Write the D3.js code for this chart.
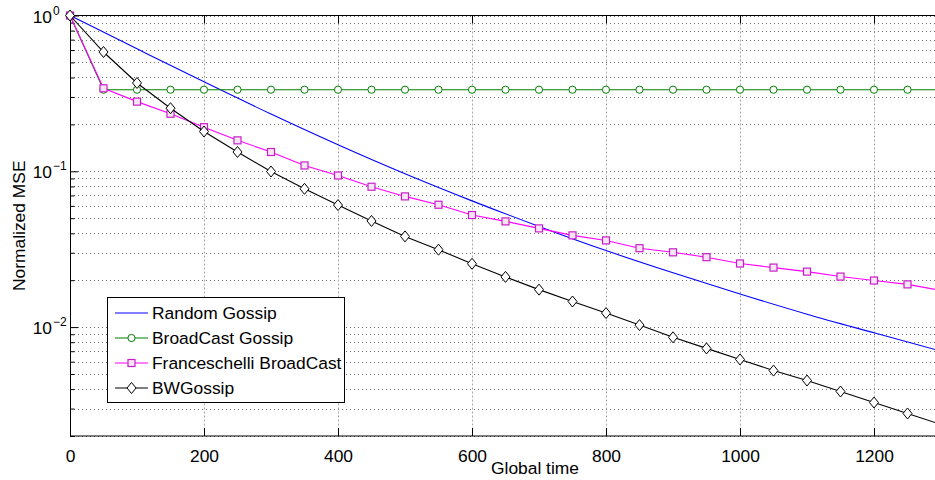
<!DOCTYPE html>
<html>
<head>
<meta charset="utf-8">
<script src="https://cdn.jsdelivr.net/npm/d3@7"></script>
<style>
  html, body { margin: 0; padding: 0; background: #fff; }
  svg { display: block; font-family: "Liberation Sans", Arial, Helvetica, sans-serif; }
</style>
</head>
<body>
<div id="chart"></div>
<script>
/* ------------------------------------------------------------
   Normalized MSE vs global time (log y), MATLAB-style figure
   ------------------------------------------------------------ */

// -- Data ------------------------------------------------------
const TIME = [0, 50, 100, 150, 200, 250, 300, 350, 400, 450, 500, 550, 600, 650,
  700, 750, 800, 850, 900, 950, 1000, 1050, 1100, 1150, 1200, 1250, 1300];

// random gossip is a smooth curve without markers, read every 100
const RANDOM_TIME = [0, 100, 200, 300, 400, 500, 600, 700, 800, 900, 1000, 1100, 1200, 1300];
const RANDOM_GOSSIP = [1, 0.611, 0.375, 0.233, 0.148, 0.0964, 0.0646, 0.0443,
  0.0310, 0.0223, 0.0163, 0.0121, 0.00919, 0.00701];

const BROADCAST_GOSSIP = [1, 0.334, 0.334, 0.334, 0.334, 0.334, 0.334, 0.334, 0.334,
  0.334, 0.334, 0.334, 0.334, 0.334, 0.334, 0.334, 0.334, 0.334, 0.334, 0.334,
  0.334, 0.334, 0.334, 0.334, 0.334, 0.334, 0.334];

const FRANCESCHELLI = [1, 0.341, 0.280, 0.234, 0.192, 0.158, 0.133, 0.109, 0.094,
  0.0796, 0.069, 0.061, 0.0524, 0.0477, 0.043, 0.0388, 0.036, 0.0321, 0.0302,
  0.0281, 0.0256, 0.0241, 0.0227, 0.0211, 0.0199, 0.0188, 0.0172];

const BW_GOSSIP = [1, 0.583, 0.369, 0.254, 0.180, 0.133, 0.0997, 0.0772, 0.0607,
  0.048, 0.0382, 0.0314, 0.0255, 0.021, 0.0174, 0.0146, 0.0123, 0.0103, 0.0086,
  0.0073, 0.0062, 0.00526, 0.00454, 0.00386, 0.00328, 0.00279, 0.00237];

const X_TICKS = [0, 200, 400, 600, 800, 1000, 1200];
const Y_DECADES = [0, -1, -2];

const LEGEND = ["Random Gossip", "BroadCast Gossip", "Franceschelli BroadCast", "BWGossip"];

// -- Layout ----------------------------------------------------
const W = 935, H = 480;
const M = { left: 70, top: 15.5, bottom: 436, right: 1008 };
const FONT = "17.4px";

const svg = d3.select("#chart").append("svg")
  .attr("width", W)
  .attr("height", H);

const x = d3.scaleLinear().domain([0, 1400]).range([M.left, M.right]);
const y = d3.scaleLog().domain([0.002, 1]).range([M.bottom, M.top]);

// -- Grid ------------------------------------------------------
const grid = svg.append("g").attr("class", "grid");

grid.selectAll("line.hgrid")
  .data(y.ticks())
  .join("line")
  .attr("class", "hgrid")
  .attr("x1", M.left)
  .attr("x2", M.right)
  .attr("y1", (d) => Math.round(y(d)) + 0.5)
  .attr("y2", (d) => Math.round(y(d)) + 0.5)
  .attr("stroke", "#6e6e6e")
  .attr("stroke-width", 1)
  .attr("stroke-dasharray", "1,3");

grid.selectAll("line.vgrid")
  .data(X_TICKS.slice(1))
  .join("line")
  .attr("class", "vgrid")
  .attr("x1", (d) => Math.round(x(d)) + 0.5)
  .attr("x2", (d) => Math.round(x(d)) + 0.5)
  .attr("y1", M.top)
  .attr("y2", M.bottom)
  .attr("stroke", "#a8a8a8")
  .attr("stroke-width", 1)
  .attr("stroke-dasharray", "2,2");

// -- Axes frame + ticks ----------------------------------------
const axes = svg.append("g").attr("class", "axes");

axes.append("rect")
  .attr("x", M.left + 0.5)
  .attr("y", M.top)
  .attr("width", M.right - M.left)
  .attr("height", M.bottom - M.top)
  .attr("fill", "none")
  .attr("stroke", "#000")
  .attr("stroke-width", 1);

// x ticks, inward at bottom and top
axes.append("g")
  .attr("transform", `translate(0,${M.bottom})`)
  .call(d3.axisBottom(x).tickValues(X_TICKS).tickFormat(d3.format("d"))
    .tickSizeInner(-8).tickSizeOuter(0).tickPadding(14))
  .call((g) => g.select(".domain").remove());

axes.append("g")
  .attr("transform", `translate(0,${M.top})`)
  .call(d3.axisTop(x).tickValues(X_TICKS).tickSizeInner(-8).tickSizeOuter(0).tickFormat(""))
  .call((g) => g.select(".domain").remove());

// y ticks, major decades longer than minor ones
const isMajor = (d) => Math.abs(Math.log10(d) - Math.round(Math.log10(d))) < 1e-9;

axes.append("g")
  .attr("transform", `translate(${M.left},0)`)
  .call(d3.axisLeft(y).tickValues(y.ticks()).tickSizeOuter(0).tickFormat(""))
  .call((g) => g.select(".domain").remove())
  .call((g) => g.selectAll(".tick line")
    .attr("x2", (d) => (isMajor(d) ? 8 : 4.5)));

axes.selectAll(".tick line").attr("stroke", "#000");
axes.selectAll(".tick text")
  .attr("fill", "#000")
  .style("font-size", FONT)
  .style("font-family", "\"Liberation Sans\", Arial, Helvetica, sans-serif");

// y tick labels as 10^k
const yLabels = axes.append("g").attr("class", "ylabels");
Y_DECADES.forEach((k) => {
  const yy = y(Math.pow(10, k));
  yLabels.append("text")
    .attr("x", 52)
    .attr("y", yy + 7)
    .attr("text-anchor", "end")
    .style("font-size", FONT)
    .text("10");
  yLabels.append("text")
    .attr("x", 53)
    .attr("y", yy - 1)
    .attr("text-anchor", "start")
    .style("font-size", "12px")
    .text(k === 0 ? "0" : "\u2212" + Math.abs(k));
});

// axis titles
svg.append("text")
  .attr("x", 535)
  .attr("y", 474)
  .attr("text-anchor", "middle")
  .style("font-size", FONT)
  .text("Global time");

svg.append("text")
  .attr("transform", `translate(25,${(M.top + M.bottom) / 2}) rotate(-90)`)
  .attr("text-anchor", "middle")
  .style("font-size", FONT)
  .text("Normalized MSE");

// -- Series ----------------------------------------------------
const plot = svg.append("g").attr("class", "plot");

const series = [
  { name: LEGEND[0], xs: RANDOM_TIME, ys: RANDOM_GOSSIP, color: "#0000ff", marker: null, curve: d3.curveMonotoneX },
  { name: LEGEND[1], xs: TIME, ys: BROADCAST_GOSSIP, color: "#008000", marker: "circle", curve: d3.curveLinear },
  { name: LEGEND[2], xs: TIME, ys: FRANCESCHELLI, color: "#ff00ff", marker: "square", curve: d3.curveLinear },
  { name: LEGEND[3], xs: TIME, ys: BW_GOSSIP, color: "#000000", marker: "diamond", curve: d3.curveLinear },
];

function drawMarker(sel, type, color) {
  if (type === "circle") {
    sel.append("circle")
      .attr("r", 3.6)
      .attr("fill", "#fff")
      .attr("stroke", color)
      .attr("stroke-width", 1);
  } else if (type === "square") {
    sel.append("rect")
      .attr("x", -3.5).attr("y", -3.5)
      .attr("width", 7).attr("height", 7)
      .attr("fill", "#f8e6f8")
      .attr("stroke", "#c81ec8")
      .attr("stroke-width", 1.2);
  } else if (type === "diamond") {
    sel.append("path")
      .attr("d", "M0,-5.5L4.5,0L0,5.5L-4.5,0Z")
      .attr("fill", "#fff")
      .attr("stroke", color)
      .attr("stroke-width", 1);
  }
}

series.forEach((s) => {
  const pts = s.xs.map((t, i) => [t, s.ys[i]]);
  const line = d3.line()
    .x((d) => x(d[0]))
    .y((d) => y(d[1]))
    .curve(s.curve);

  plot.append("path")
    .datum(pts)
    .attr("d", line)
    .attr("fill", "none")
    .attr("stroke", s.color)
    .attr("stroke-width", 1.1);

  if (s.marker) {
    plot.append("g")
      .selectAll("g")
      .data(pts)
      .join("g")
      .attr("transform", (d) => `translate(${x(d[0])},${y(d[1])})`)
      .each(function () { drawMarker(d3.select(this), s.marker, s.color); });
  }
});

// -- Legend ----------------------------------------------------
const legend = svg.append("g").attr("class", "legend");

legend.append("rect")
  .attr("x", 107.5)
  .attr("y", 297.5)
  .attr("width", 237)
  .attr("height", 105)
  .attr("fill", "#fff")
  .attr("stroke", "#000")
  .attr("stroke-width", 1);

const rows = legend.selectAll("g.row")
  .data(series)
  .join("g")
  .attr("class", "row")
  .attr("transform", (d, i) => `translate(0,${313 + i * 25})`);

rows.append("line")
  .attr("x1", 115)
  .attr("x2", 148)
  .attr("y1", 0)
  .attr("y2", 0)
  .attr("stroke", (d) => d.color)
  .attr("stroke-width", 1.1);

rows.each(function (d) {
  if (d.marker) {
    const m = d3.select(this).append("g").attr("transform", "translate(131.5,0)");
    drawMarker(m, d.marker, d.color);
  }
});

rows.append("text")
  .attr("x", 152)
  .attr("y", 6)
  .style("font-size", FONT)
  .text((d) => d.name);
</script>
</body>
</html>
